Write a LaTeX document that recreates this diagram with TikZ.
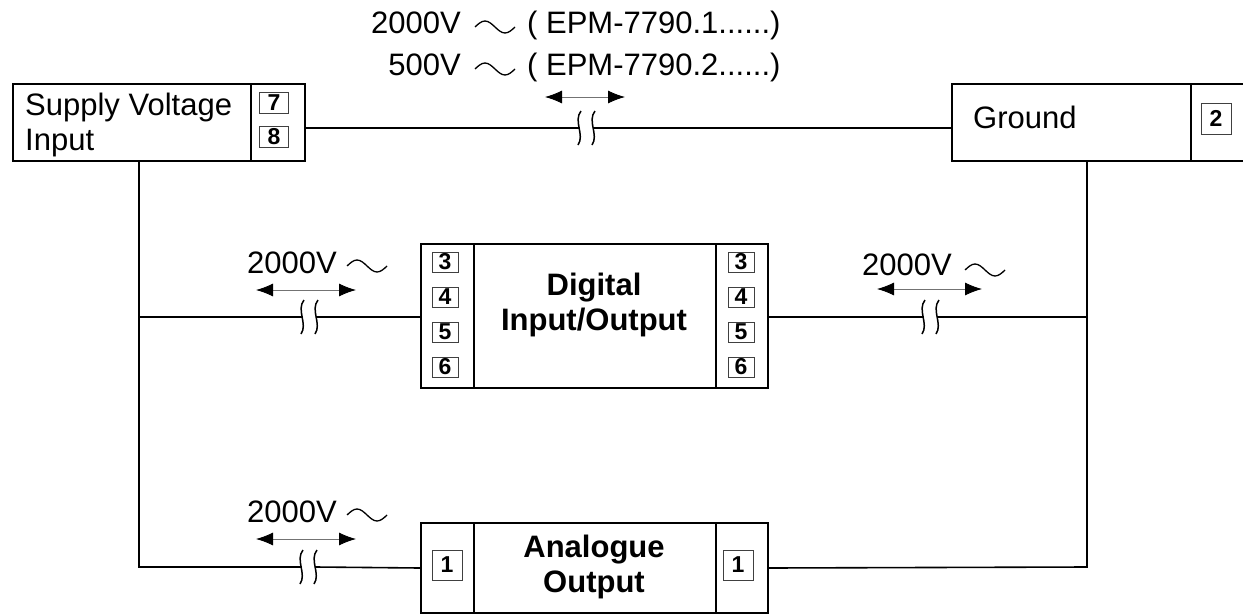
\documentclass[tikz,border=0pt]{standalone}
\usepackage{fontspec}
\setmainfont{Liberation Sans}
\usetikzlibrary{arrows.meta}

% wire break: two wavy strokes, ends named #1l and #1r
\newcommand\gapmark[3]{%
  \coordinate (#1) at (#2,#3);
  \coordinate (#1l) at (#2-7,#3);
  \coordinate (#1r) at (#2+7,#3);
  \draw[brk] (#1l) ++(1,-17) .. controls +(-8,10) and +(7,-10) .. ++(-3,34);
  \draw[brk] (#1r) ++(1,-17) .. controls +(-8,10) and +(7,-10) .. ++(-3,34);
}
% alternating voltage sign
\newcommand\acwave[1]{\draw[wave] (#1) sin ++(10,-6) cos ++(10,6) sin ++(10,6) cos ++(10,-6);}

\begin{document}
\begin{tikzpicture}[x=1pt,y=-1pt,
    unit/.style={draw, line width=2pt, inner sep=0pt, anchor=north west},
    tbox/.style={draw=black!75, line width=0.8pt, inner sep=0pt,
      font=\fontsize{23}{23}\selectfont\bfseries,
      minimum width=29pt, minimum height=21pt},
    wire/.style={line width=1.6pt},
    brk/.style={line width=1.5pt},
    wave/.style={line width=1.3pt},
    span/.style={{Latex[length=17pt,width=13pt,color=black]}-{Latex[length=17pt,width=13pt,color=black]},
      draw=black!55, line width=0.8pt},
    txt/.style={font=\fontsize{31}{35}\selectfont, inner sep=0pt},
    head/.style={font=\fontsize{31}{35}\selectfont\bfseries, inner sep=0pt, align=center}]

    \useasboundingbox (0,0) rectangle (1243,614);

    % supply and ground
    \node[unit, minimum width=238pt, minimum height=77pt] (supply) at (12,83) {};
    \node[unit, minimum width=54pt, minimum height=77pt] (supplypins) at (250,83) {};
    \node[txt, anchor=base west, align=left] at (25,150) {Supply Voltage\\Input};
    \node[tbox] (p7) at (274,102.5) {7};
    \node[tbox] (p8) at (274,136.5) {8};

    \node[unit, minimum width=239pt, minimum height=77pt] (ground) at (951,83) {};
    \node[unit, minimum width=70pt, minimum height=77pt] (groundpins) at (1190,83) {};
    \node[txt, anchor=base west] at (973,128) {Ground};
    \node[tbox, minimum width=30pt, minimum height=31pt] (p2) at (1216,118.5) {2};

    % digital in/out
    \node[unit, minimum width=53pt, minimum height=144pt] (digleft) at (420,243) {};
    \node[unit, minimum width=242pt, minimum height=144pt] (digital) at (473,243) {};
    \node[unit, minimum width=52pt, minimum height=144pt] (digright) at (715,243) {};
    \node[head, anchor=base] at (594,330) {Digital\\Input/Output};
    \foreach \n [count=\i] in {3,4,5,6} {
        \node[tbox, minimum width=26pt, minimum height=20pt] (dl\n) at (445,227+35*\i) {\n};
        \node[tbox, minimum width=26pt, minimum height=20pt] (dr\n) at (741,227+35*\i) {\n};
    }

    % analogue out
    \node[unit, minimum width=53pt, minimum height=90pt] (analeft) at (420,522) {};
    \node[unit, minimum width=242pt, minimum height=90pt] (analog) at (473,522) {};
    \node[unit, minimum width=52pt, minimum height=90pt] (anaright) at (715,522) {};
    \node[head, anchor=base] at (594,592) {Analogue\\Output};
    \node[tbox, minimum width=30pt, minimum height=30pt] (al1) at (447,565) {1};
    \node[tbox, minimum width=30pt, minimum height=30pt] (ar1) at (738,565) {1};

    % breaks
    \gapmark{g1}{587}{128}
    \gapmark{g2}{310}{317}
    \gapmark{g3}{931}{317}
    \gapmark{g4}{309}{567}

    \coordinate (lt) at (139,317);
    \coordinate (lb) at (139,567);
    \coordinate (rt) at (1087,317);
    \coordinate (rb) at (1087,567);

    % wires
    \draw[wire] (supplypins.east |- g1l) -- (g1l);
    \draw[wire] (g1r) -- (ground.west |- g1r);
    \draw[wire] (supply.south -| lb) -- (lb) -- (g4l);
    \draw[wire] (g4r) -- (analeft.west);
    \draw[wire] (lt) -- (g2l);
    \draw[wire] (g2r) -- (digleft.west |- g2r);
    \draw[wire] (digright.east |- g3l) -- (g3l);
    \draw[wire] (g3r) -- (rt);
    \draw[wire] (ground.south -| rb) -- (rb) -- (anaright.east);

    % test voltages
    \node[txt, anchor=base east] (v1) at (461,33) {2000V};
    \node[txt, anchor=base west] (m1) at (527,33) {( EPM-7790.1......)};
    \node[txt, anchor=base east] (v2) at (461,75) {500V};
    \node[txt, anchor=base west] (m2) at (527,75) {( EPM-7790.2......)};
    \node[txt, anchor=base west] (v3) at (247,273) {2000V};
    \node[txt, anchor=base west] (v4) at (862,275) {2000V};
    \node[txt, anchor=base west] (v5) at (247,522) {2000V};

    \acwave{[xshift=14pt,yshift=6pt]v1.base east}
    \acwave{[xshift=14pt,yshift=6pt]v2.base east}
    \acwave{[xshift=10pt,yshift=7pt]v3.base east}
    \acwave{[xshift=13pt,yshift=5pt]v4.base east}
    \acwave{[xshift=10pt,yshift=7pt]v5.base east}

    \draw[span] ([shift={(-42,-31)}]g1) -- ([shift={(38,-31)}]g1);
    \draw[span] ([shift={(-54,-27)}]g2) -- ([shift={(46,-27)}]g2);
    \draw[span] ([shift={(-54,-28)}]g3) -- ([shift={(51,-28)}]g3);
    \draw[span] ([shift={(-53,-28)}]g4) -- ([shift={(47,-28)}]g4);

\end{tikzpicture}
\end{document}
